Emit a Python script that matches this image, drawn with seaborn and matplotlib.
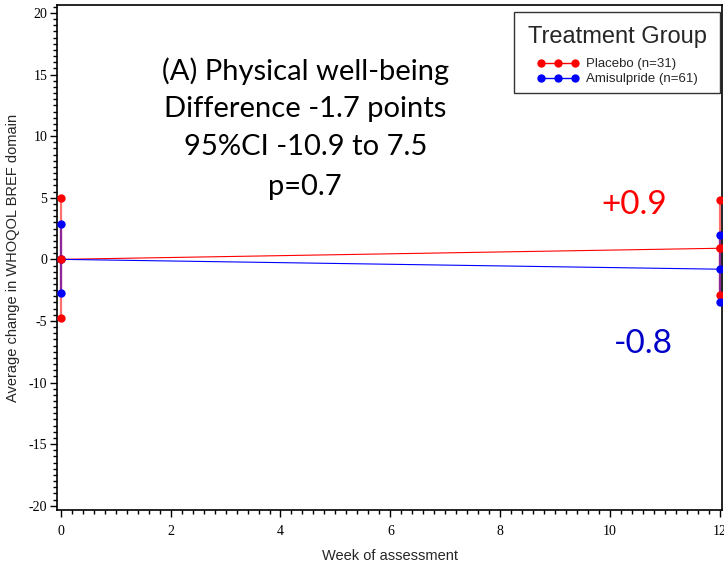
import matplotlib
matplotlib.use("Agg")
import matplotlib.pyplot as plt
from matplotlib.lines import Line2D
from matplotlib.offsetbox import PaddedBox
from matplotlib.ticker import MultipleLocator
import seaborn as sns
import pandas as pd

# Mean change from baseline with 95% CI limits, by treatment group
weeks = [0, 12]
groups = ["Placebo (n=31)", "Amisulpride (n=61)"]
placebo_mean = [0.0, 0.9]
placebo_upper = [5.0, 4.8]
placebo_lower = [-4.8, -2.9]
amisulpride_mean = [0.0, -0.8]
amisulpride_upper = [2.9, 2.0]
amisulpride_lower = [-2.7, -3.5]

df = pd.DataFrame({
    "week": weeks * 2,
    "change": placebo_mean + amisulpride_mean,
    "group": [groups[0]] * 2 + [groups[1]] * 2,
})

sns.set_style("white")
plt.rcParams["axes.unicode_minus"] = False
fig = plt.figure(figsize=(7.24, 5.67), dpi=100)
ax = fig.add_axes([57 / 724, 1 - 510 / 567, 665 / 724, 505 / 567])

palette = {groups[0]: "#ff0000", groups[1]: "#0000ff"}
sns.lineplot(data=df, x="week", y="change", hue="group", palette=palette,
             marker="o", markersize=6, markeredgewidth=0, linewidth=0.8,
             ax=ax, legend=False, zorder=3)

# CI whiskers: placebo drawn in light red, amisulpride overlaid in purple
for w, lo, hi in zip(weeks, placebo_lower, placebo_upper):
    ax.plot([w, w], [lo, hi], color="#ff7070", lw=1.6, zorder=2)
    ax.plot([w, w], [lo, hi], "o", color="#ff0000", ms=6, mew=0, zorder=4)
for w, lo, hi in zip(weeks, amisulpride_lower, amisulpride_upper):
    ax.plot([w, w], [lo, hi], color="#8a2a9a", lw=1.6, zorder=2.5)
    ax.plot([w, w], [lo, hi], "o", color="#0000ff", ms=6, mew=0, zorder=4)
# redraw placebo mean dots on top
ax.plot(weeks, placebo_mean, "o", color="#ff0000", ms=6, mew=0, zorder=5)

ax.set_xlim(-0.07, 12.04)
ax.set_ylim(-20.35, 20.65)
ax.xaxis.set_major_locator(MultipleLocator(2))
ax.xaxis.set_minor_locator(MultipleLocator(0.2))
ax.yaxis.set_major_locator(MultipleLocator(5))
ax.yaxis.set_minor_locator(MultipleLocator(0.5))
ax.tick_params(which="both", direction="out", left=True, bottom=True,
               colors="black")
ax.tick_params(which="major", length=5, width=1)
ax.tick_params(which="minor", length=3, width=1)
for lab in ax.get_xticklabels() + ax.get_yticklabels():
    lab.set_fontfamily("Liberation Serif")
    lab.set_fontsize(10)
ax.tick_params(axis="x", pad=6)
ax.tick_params(axis="y", pad=2)
for s in ax.spines.values():
    s.set_color("black")
    s.set_linewidth(1.2)

ax.set_xlabel("Week of assessment", family="Liberation Sans", fontsize=10.5,
              labelpad=8)
ax.set_ylabel("Average change in WHOQOL BREF domain", family="Liberation Sans",
              fontsize=10.5, labelpad=6)

for txt, y in [("(A) Physical well-being", 15.3),
               ("Difference -1.7 points", 12.2),
               ("95%CI -10.9 to 7.5", 9.1),
               ("p=0.7", 5.9)]:
    ax.text(4.45, y, txt, ha="center", va="center", fontsize=21,
            family="Lato", color="black")
ax.text(10.45, 4.45, "+0.9", ha="center", va="center", fontsize=24,
        family="Lato", color="#ff0000")
ax.text(10.6, -6.9, "-0.8", ha="center", va="center", fontsize=24,
        family="Lato", color="#0000c8")

handles = [Line2D([0], [0], color=palette[g], marker="o", ms=6, mew=0, lw=1)
           for g in groups]
leg = ax.legend(handles, groups, title="Treatment Group", loc="upper right",
                bbox_to_anchor=(0.997, 0.986), borderaxespad=0,
                numpoints=3, handlelength=3.2, alignment="center",
                frameon=True, fancybox=False, fontsize=9.5,
                title_fontsize=17, borderpad=0.55, labelspacing=0.22,
                handletextpad=0.5)
leg.get_frame().set_edgecolor("black")
leg.get_frame().set_linewidth(1)
# extra room around the legend title
leg._legend_box._children[0] = PaddedBox(leg._legend_title_box, pad=4.5)
leg._legend_box.sep = 3
plt.setp(leg.get_title(), family="Liberation Sans")
for t in leg.get_texts():
    t.set_fontfamily("Liberation Sans")

fig.savefig("out.png", dpi=100)
